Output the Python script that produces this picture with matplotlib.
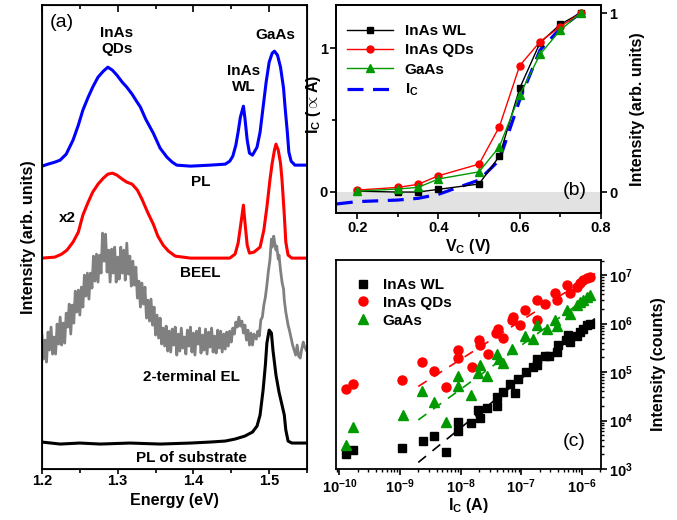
import numpy as np
import matplotlib
matplotlib.use('Agg')
import matplotlib.pyplot as plt
from matplotlib.lines import Line2D

plt.rcParams['font.family'] = ['Liberation Sans', 'DejaVu Sans']
plt.rcParams['font.weight'] = 'bold'
plt.rcParams['axes.labelweight'] = 'bold'
plt.rcParams['mathtext.fontset'] = 'custom'
plt.rcParams['mathtext.rm'] = 'Liberation Sans:bold'
plt.rcParams['mathtext.it'] = 'Liberation Sans:bold'
plt.rcParams['mathtext.bf'] = 'Liberation Sans:bold'
plt.rcParams['mathtext.sf'] = 'Liberation Sans:bold'
plt.rcParams['mathtext.default'] = 'rm'
plt.rcParams['font.size'] = 10

# ---------------- panel (a): spectra ----------------
e_pl = [1.200, 1.208, 1.217, 1.224, 1.232, 1.241, 1.248, 1.254, 1.261, 1.267,
        1.274, 1.281, 1.287, 1.293, 1.299, 1.306, 1.312, 1.319, 1.324, 1.330,
        1.337, 1.347, 1.356, 1.365, 1.372, 1.378, 1.396, 1.422, 1.442, 1.448,
        1.452, 1.456, 1.459, 1.462, 1.466, 1.468, 1.471, 1.474, 1.478, 1.484,
        1.488, 1.492, 1.496, 1.500, 1.504, 1.507, 1.511, 1.515, 1.519, 1.521,
        1.524, 1.526, 1.529, 1.534, 1.549]
i_pl = [3.03, 3.05, 3.07, 3.09, 3.15, 3.29, 3.44, 3.59, 3.72, 3.82,
        3.92, 3.98, 4.02, 3.99, 3.94, 3.87, 3.82, 3.75, 3.69, 3.62,
        3.50, 3.36, 3.21, 3.12, 3.07, 3.04, 3.03, 3.04, 3.05, 3.08,
        3.13, 3.24, 3.37, 3.52, 3.63, 3.51, 3.29, 3.16, 3.14, 3.22,
        3.37, 3.62, 3.87, 4.07, 4.16, 4.18, 4.14, 4.02, 3.81, 3.62,
        3.37, 3.17, 3.08, 3.04, 3.04]

e_beel = [1.200, 1.217, 1.226, 1.233, 1.241, 1.248, 1.254, 1.261, 1.267, 1.274,
          1.281, 1.287, 1.293, 1.299, 1.306, 1.312, 1.319, 1.326, 1.332, 1.340,
          1.347, 1.353, 1.360, 1.367, 1.376, 1.396, 1.448, 1.455, 1.459, 1.462,
          1.466, 1.468, 1.471, 1.474, 1.480, 1.488, 1.493, 1.497, 1.501, 1.504,
          1.507, 1.509, 1.512, 1.515, 1.517, 1.520, 1.522, 1.525, 1.530, 1.549]
i_beel = [2.11, 2.12, 2.15, 2.19, 2.27, 2.37, 2.54, 2.67, 2.77, 2.85,
          2.91, 2.95, 2.96, 2.94, 2.90, 2.87, 2.85, 2.79, 2.70, 2.56,
          2.45, 2.33, 2.24, 2.18, 2.13, 2.11, 2.11, 2.15, 2.26, 2.42,
          2.64, 2.47, 2.24, 2.16, 2.17, 2.22, 2.39, 2.62, 2.89, 3.06,
          3.19, 3.25, 3.19, 3.06, 2.89, 2.54, 2.27, 2.14, 2.11, 2.11]

e_el = [1.200, 1.202, 1.204, 1.206, 1.208, 1.210, 1.212, 1.214, 1.216, 1.218,
        1.220, 1.222, 1.224, 1.226, 1.228, 1.230, 1.232, 1.234, 1.236, 1.238,
        1.240, 1.242, 1.244, 1.246, 1.248, 1.250, 1.252, 1.254, 1.256, 1.258,
        1.260, 1.262, 1.264, 1.266, 1.268, 1.270, 1.272, 1.274, 1.276, 1.278,
        1.280, 1.282, 1.284, 1.286, 1.288, 1.290, 1.292, 1.294, 1.296, 1.298,
        1.300, 1.302, 1.304, 1.306, 1.308, 1.310, 1.312, 1.314, 1.316, 1.318,
        1.320, 1.322, 1.324, 1.326, 1.328, 1.330, 1.332, 1.334, 1.336, 1.338,
        1.340, 1.342, 1.344, 1.346, 1.348, 1.350, 1.352, 1.354, 1.356, 1.358,
        1.360, 1.362, 1.364, 1.366, 1.368, 1.370, 1.372, 1.374, 1.376, 1.378,
        1.380, 1.382, 1.384, 1.386, 1.388, 1.390, 1.392, 1.394, 1.396, 1.398,
        1.400, 1.402, 1.404, 1.406, 1.408, 1.410, 1.412, 1.414, 1.416, 1.418,
        1.420, 1.422, 1.424, 1.426, 1.428, 1.430, 1.432, 1.434, 1.436, 1.438,
        1.440, 1.442, 1.444, 1.446, 1.448, 1.450, 1.452, 1.454, 1.456, 1.458,
        1.460, 1.462, 1.464, 1.466, 1.468, 1.470, 1.472, 1.474, 1.476, 1.478,
        1.480, 1.483, 1.485, 1.487, 1.489, 1.491, 1.493, 1.495, 1.497, 1.499,
        1.501, 1.503, 1.504, 1.506, 1.507, 1.509, 1.510, 1.512, 1.513, 1.515,
        1.517, 1.519, 1.520, 1.522, 1.525, 1.527, 1.529, 1.531, 1.533, 1.535,
        1.537, 1.539, 1.541, 1.543, 1.545, 1.547, 1.549]
i_el = [1.34, 1.10, 1.29, 1.07, 1.37, 1.19, 1.42, 1.15, 1.32, 1.15,
        1.45, 1.25, 1.52, 1.24, 1.46, 1.26, 1.56, 1.42, 1.65, 1.35,
        1.64, 1.46, 1.78, 1.57, 1.79, 1.54, 1.82, 1.62, 1.94, 1.73,
        1.96, 1.70, 1.96, 1.81, 2.13, 1.88, 2.15, 1.87, 2.14, 1.96,
        2.36, 2.08, 2.35, 1.97, 2.19, 1.87, 2.20, 1.96, 2.22, 1.87,
        2.12, 1.90, 2.22, 1.96, 2.19, 1.89, 2.26, 1.95, 2.13, 1.83,
        2.08, 1.84, 2.02, 1.71, 1.88, 1.62, 1.86, 1.65, 1.82, 1.51,
        1.69, 1.48, 1.70, 1.44, 1.62, 1.34, 1.54, 1.31, 1.51, 1.25,
        1.41, 1.23, 1.43, 1.18, 1.38, 1.17, 1.40, 1.24, 1.42, 1.14,
        1.35, 1.18, 1.41, 1.21, 1.32, 1.15, 1.39, 1.23, 1.42, 1.17,
        1.36, 1.14, 1.38, 1.25, 1.41, 1.16, 1.34, 1.19, 1.40, 1.15,
        1.37, 1.22, 1.41, 1.17, 1.33, 1.16, 1.39, 1.21, 1.38, 1.17,
        1.35, 1.20, 1.37, 1.23, 1.38, 1.27, 1.41, 1.35, 1.47, 1.42,
        1.52, 1.43, 1.48, 1.36, 1.44, 1.29, 1.39, 1.24, 1.36, 1.24,
        1.35, 1.30, 1.38, 1.33, 1.49, 1.52, 1.64, 1.72, 1.84, 1.98,
        2.09, 2.30, 2.22, 2.33, 2.28, 2.19, 2.23, 2.10, 2.14, 1.99,
        1.87, 1.80, 1.69, 1.57, 1.44, 1.38, 1.31, 1.24, 1.19, 1.14,
        1.24, 1.13, 1.11, 1.20, 1.27, 1.22, 1.19]

e_sub = [1.200, 1.224, 1.250, 1.277, 1.316, 1.356, 1.396, 1.422, 1.442, 1.455,
         1.468, 1.478, 1.484, 1.488, 1.492, 1.495, 1.497, 1.500, 1.503, 1.505,
         1.509, 1.513, 1.517, 1.520, 1.522, 1.525, 1.530, 1.549]
i_sub = [0.27, 0.25, 0.26, 0.25, 0.26, 0.25, 0.26, 0.27, 0.28, 0.30,
         0.33, 0.37, 0.43, 0.54, 0.79, 1.04, 1.26, 1.39, 1.36, 1.19,
         0.94, 0.77, 0.64, 0.54, 0.39, 0.28, 0.26, 0.26]

# ---------------- panel (b): vs collector voltage ----------------
vc = [0.2, 0.3, 0.35, 0.4, 0.5, 0.55, 0.6, 0.65, 0.7, 0.75]
b_wl = [0.005, 0.0, 0.0, 0.015, 0.045, 0.20, 0.58, 0.834, 0.937, 1.0]
b_qd = [0.011, 0.026, 0.043, 0.091, 0.156, 0.365, 0.706, 0.84, 0.924, 1.0]
b_gaas = [0.005, 0.017, 0.026, 0.073, 0.113, 0.253, 0.542, 0.769, 0.905, 1.0]
vc_ic = [0.15, 0.2, 0.3, 0.35, 0.4, 0.5, 0.55, 0.6, 0.65, 0.7, 0.75]
ic_b = [-0.083, -0.067, -0.056, -0.044, -0.016, 0.083, 0.222, 0.64, 0.986, 1.137, 1.245]

# ---------------- panel (c): log10 values ----------------
c_qd_x = [-9.890, -9.780, -8.973, -8.632, -8.434, -8.242, -8.038, -8.038, -7.819, -7.692,
          -7.681, -7.544, -7.418, -7.379, -7.297, -7.159, -7.132, -7.022, -6.940, -6.747,
          -6.736, -6.610, -6.445, -6.418, -6.253, -6.198, -6.088, -6.033, -5.978, -5.923,
          -5.868]
c_qd_y = [4.655, 4.745, 4.841, 5.200, 5.014, 4.690, 5.448, 5.297, 5.103, 5.655,
          5.566, 5.366, 5.807, 5.897, 5.710, 6.069, 6.138, 5.966, 6.290, 6.497,
          6.083, 6.414, 6.621, 6.483, 6.793, 6.621, 6.745, 6.828, 6.897, 6.931,
          6.966]
c_ga_x = [-9.890, -9.780, -8.956, -8.643, -8.440, -8.242, -8.038, -8.038, -7.835, -7.681,
          -7.709, -7.560, -7.407, -7.363, -7.297, -7.159, -6.940, -6.802, -6.747, -6.582,
          -6.445, -6.418, -6.253, -6.198, -6.088, -6.033, -5.978, -5.923, -5.868]
c_ga_y = [3.503, 3.876, 4.117, 4.607, 4.379, 3.966, 4.910, 4.703, 4.517, 5.138,
          4.979, 4.910, 5.366, 5.276, 5.186, 5.483, 5.738, 5.690, 5.966, 5.897,
          6.083, 5.945, 6.276, 6.207, 6.379, 6.448, 6.483, 6.552, 6.586]
c_wl_x = [-9.890, -9.780, -8.967, -8.626, -8.440, -8.242, -8.038, -8.038, -7.835, -7.709,
          -7.681, -7.560, -7.407, -7.396, -7.297, -7.187, -7.104, -7.049, -6.923, -6.802,
          -6.747, -6.736, -6.610, -6.538, -6.418, -6.390, -6.264, -6.225, -6.198, -6.088,
          -6.033, -5.978, -5.923, -5.868]
c_wl_y = [3.310, 3.400, 3.441, 3.572, 3.683, 3.359, 3.966, 3.779, 3.945, 4.221,
          4.048, 4.262, 4.483, 4.290, 4.586, 4.759, 4.559, 4.862, 5.000, 5.103,
          5.276, 5.138, 5.324, 5.324, 5.414, 5.552, 5.669, 5.759, 5.621, 5.738,
          5.828, 5.897, 5.966, 6.000]
fit_x = [2.0e-9, 1.64e-6]
fit_qd = [5.05e4, 1.08e7]
fit_ga = [1.03e4, 4.5e6]
fit_wl = [1.37e3, 1.27e6]

BLUE = '#0000ff'
RED = '#ff0000'
GREEN = '#009900'

fig = plt.figure(figsize=(6.77, 5.2), dpi=100)

# ---- (a)
ax = fig.add_axes([0.062, 0.098, 0.3915, 0.892])
ax.plot(e_sub, i_sub, color='black', lw=2.2)
ax.plot(e_el, i_el, color='#808080', lw=2.0)
ax.plot(e_beel, i_beel, color=RED, lw=2.2)
ax.plot(e_pl, i_pl, color=BLUE, lw=2.2)
ax.set_xlim(1.2, 1.55)
ax.set_ylim(0, 4.64)
ax.set_yticks([])
ax.set_xticks([1.2, 1.3, 1.4, 1.5])
ax.set_xticks([1.25, 1.35, 1.45, 1.55], minor=True)
ax.tick_params(axis='x', which='major', direction='out', length=3.5, width=1.2,
               labelsize=10.5, pad=0)
ax.tick_params(axis='x', which='minor', direction='out', length=3, width=1.2)
for s in ax.spines.values():
    s.set_linewidth(1.3)
# mirrored ticks on the top edge, pointing inward
axt = ax.twiny()
axt.set_xlim(ax.get_xlim())
axt.set_xticks([1.2, 1.3, 1.4, 1.5])
axt.set_xticks([1.25, 1.35, 1.45, 1.55], minor=True)
axt.tick_params(which='both', direction='in', labeltop=False, labelbottom=False,
                bottom=False, width=1.2)
axt.tick_params(which='major', length=5)
axt.tick_params(which='minor', length=3)
ax.set_xlabel('Energy (eV)', fontsize=11.5, labelpad=4)
ax.set_ylabel('Intensity (arb. units)', fontsize=11.5, labelpad=4)
ax.text(1.226, 4.47, '(a)', fontsize=14, fontweight='normal', ha='center', va='center')
ax.text(1.299, 4.28, 'InAs\nQDs', fontsize=11, ha='center', va='center', linespacing=1.2)
ax.text(1.508, 4.34, 'GaAs', fontsize=11, ha='center', va='center')
ax.text(1.466, 3.90, 'InAs\nWL', fontsize=11, ha='center', va='center', linespacing=1.2)
ax.text(1.409, 2.87, 'PL', fontsize=11, ha='center', va='center')
ax.text(1.234, 2.51, 'x2', fontsize=11, ha='center', va='center')
ax.text(1.409, 1.96, 'BEEL', fontsize=11, ha='center', va='center')
ax.text(1.398, 0.92, '2-terminal EL', fontsize=11, ha='center', va='center')
ax.text(1.398, 0.11, 'PL of substrate', fontsize=11, ha='center', va='center')

# ---- (b)
axb = fig.add_axes([0.4963, 0.5904, 0.3914, 0.400])
axb.axhspan(-0.2, 0, color='#e2e2e2', lw=0, zorder=0)
axb.plot(vc_ic, ic_b, color=BLUE, lw=2.3, dashes=(5, 3))
axb.set_xlim(0.148, 0.8)
axb.set_ylim(-0.146, 1.30)
axb.set_yticks([0, 1])
axb.set_yticklabels(['0', '1'])
axb.set_yticks([0.5], minor=True)
axb.set_xticks([0.2, 0.4, 0.6, 0.8])
axb.set_xticks([0.3, 0.5, 0.7], minor=True)
axb.tick_params(which='major', direction='out', length=4, width=1.2, labelsize=10.5, pad=2)
axb.tick_params(which='minor', direction='out', length=3, width=1.2)
axb.set_xlabel('V$_C$ (V)', fontsize=11.5, labelpad=1)
axb.set_ylabel('I$_C$ ($\\propto$A)', fontsize=11.5)
axb.yaxis.set_label_coords(-0.05, 0.52)
axb2 = axb.twinx()
axb2.plot(vc, b_wl, color='black', lw=1.0, marker='s', ms=4.5)
axb2.plot(vc, b_qd, color=RED, lw=1.0, marker='o', ms=5)
axb2.plot(vc, b_gaas, color=GREEN, lw=1.0, marker='^', ms=5.5)
axb2.set_ylim(-0.117, 1.045)
axb2.set_yticks([0, 1])
axb2.set_yticklabels(['0', '1'])
axb2.tick_params(direction='out', length=4, width=1.2, labelsize=10.5, pad=2)
axb2.set_ylabel('Intensity (arb. units)', fontsize=11.5)
axb2.yaxis.set_label_coords(1.11, 0.5)
for a in (axb, axb2):
    for s in a.spines.values():
        s.set_linewidth(1.3)
handles = [Line2D([], [], color='black', lw=1.0, marker='s', ms=4.5),
           Line2D([], [], color=RED, lw=1.0, marker='o', ms=5),
           Line2D([], [], color=GREEN, lw=1.0, marker='^', ms=5.5),
           Line2D([], [], color=BLUE, lw=2.3, dashes=(5, 3))]
axb2.legend(handles, ['InAs WL', 'InAs QDs', 'GaAs', 'I$_C$'], loc='upper left',
            bbox_to_anchor=(0.0, 0.96), frameon=False, fontsize=11,
            handlelength=3.0, labelspacing=0.35, borderaxespad=0.3)
axb2.text(0.9, 0.11, '(b)', transform=axb2.transAxes, fontsize=14,
          fontweight='normal', ha='center', va='center')

# ---- (c)
axc = fig.add_axes([0.4963, 0.098, 0.3914, 0.402])
axc.plot(fit_x, fit_qd, color=RED, lw=1.2, dashes=(6, 5))
axc.plot(fit_x, fit_ga, color=GREEN, lw=1.2, dashes=(6, 5))
axc.plot(fit_x, fit_wl, color='black', lw=1.2, dashes=(6, 5))
axc.plot(10 ** np.array(c_wl_x), 10 ** np.array(c_wl_y), 's', color='black', ms=5.5, ls='none', label='InAs WL')
axc.plot(10 ** np.array(c_qd_x), 10 ** np.array(c_qd_y), 'o', color=RED, ms=6.5, ls='none', label='InAs QDs')
axc.plot(10 ** np.array(c_ga_x), 10 ** np.array(c_ga_y), '^', color=GREEN, ms=7, ls='none', label='GaAs')
axc.set_xscale('log')
axc.set_yscale('log')
axc.set_xlim(8.8e-11, 2.06e-6)
axc.set_ylim(1e3, 2.05e7)
axc.yaxis.tick_right()
axc.yaxis.set_label_position('right')
axc.tick_params(which='major', direction='out', length=4, width=1.2, labelsize=10.5, pad=2)
axc.tick_params(which='minor', direction='out', length=2.5, width=1.0)
axc.set_xlabel('I$_C$ (A)', fontsize=11.5, labelpad=0)
axc.set_ylabel('Intensity (counts)', fontsize=11.5)
axc.yaxis.set_label_coords(1.19, 0.5)
for s in axc.spines.values():
    s.set_linewidth(1.3)
axc.legend(loc='upper left', bbox_to_anchor=(0.02, 0.98), frameon=False, fontsize=11,
           handlelength=1.0, labelspacing=0.25, handletextpad=0.8)
axc.text(0.9, 0.134, '(c)', transform=axc.transAxes, fontsize=14,
         fontweight='normal', ha='center', va='center')

fig.savefig('out.png', dpi=100)
